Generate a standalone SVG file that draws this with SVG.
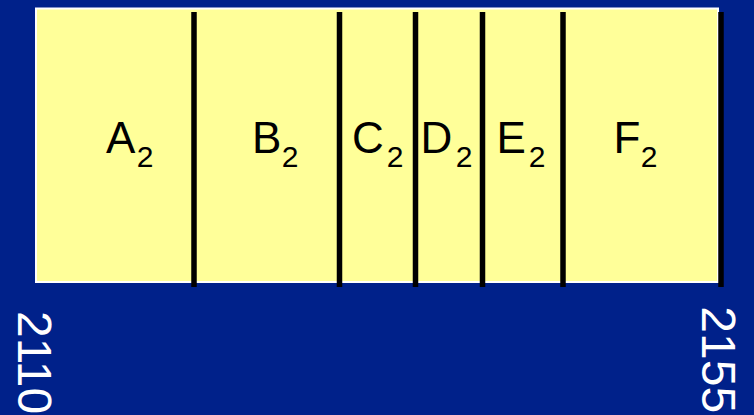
<svg xmlns="http://www.w3.org/2000/svg" width="754" height="415" viewBox="0 0 754 415">
<style>
.lbl{font-family:"Liberation Sans",Arial,sans-serif;font-size:44px;fill:#000}
.sub{font-size:30px}
.num{font-family:"Liberation Sans",Arial,sans-serif;font-size:48px;fill:#fff}
.div{stroke:#000;stroke-width:5.5;fill:none}
</style>
<rect width="754" height="415" fill="#00218A"/>
<g id="bar">
<rect x="36" y="8.5" width="682" height="273.5" fill="#FFFF99" stroke="#fff" stroke-width="2"/>
</g>
<g id="cell-A"><text class="lbl" x="106" y="153">A<tspan class="sub" x="136.7" dy="14">2</tspan></text></g>
<g id="cell-B"><text class="lbl" x="252" y="153">B<tspan class="sub" x="281.7" dy="14">2</tspan></text></g>
<g id="cell-C"><text class="lbl" x="352" y="153">C<tspan class="sub" x="386.7" dy="14">2</tspan></text></g>
<g id="cell-D"><text class="lbl" x="420.5" y="153">D<tspan class="sub" x="455.7" dy="14">2</tspan></text></g>
<g id="cell-E"><text class="lbl" x="496.5" y="153">E<tspan class="sub" x="528.7" dy="14">2</tspan></text></g>
<g id="cell-F"><text class="lbl" x="613.5" y="153">F<tspan class="sub" x="640.7" dy="14">2</tspan></text></g>
<g id="dividers">
<line class="div" x1="194" y1="12" x2="194" y2="287"/>
<line class="div" x1="339.5" y1="12" x2="339.5" y2="287"/>
<line class="div" x1="415.5" y1="12" x2="415.5" y2="287"/>
<line class="div" x1="482.5" y1="12" x2="482.5" y2="287"/>
<line class="div" x1="563" y1="12" x2="563" y2="287"/>
<line class="div" x1="721" y1="12" x2="721" y2="287"/>
</g>
<g id="axis-labels">
<text class="num" transform="translate(18,311) rotate(90)">2110</text>
<text class="num" transform="translate(702,306.3) rotate(90)">2155</text>
</g>
</svg>
